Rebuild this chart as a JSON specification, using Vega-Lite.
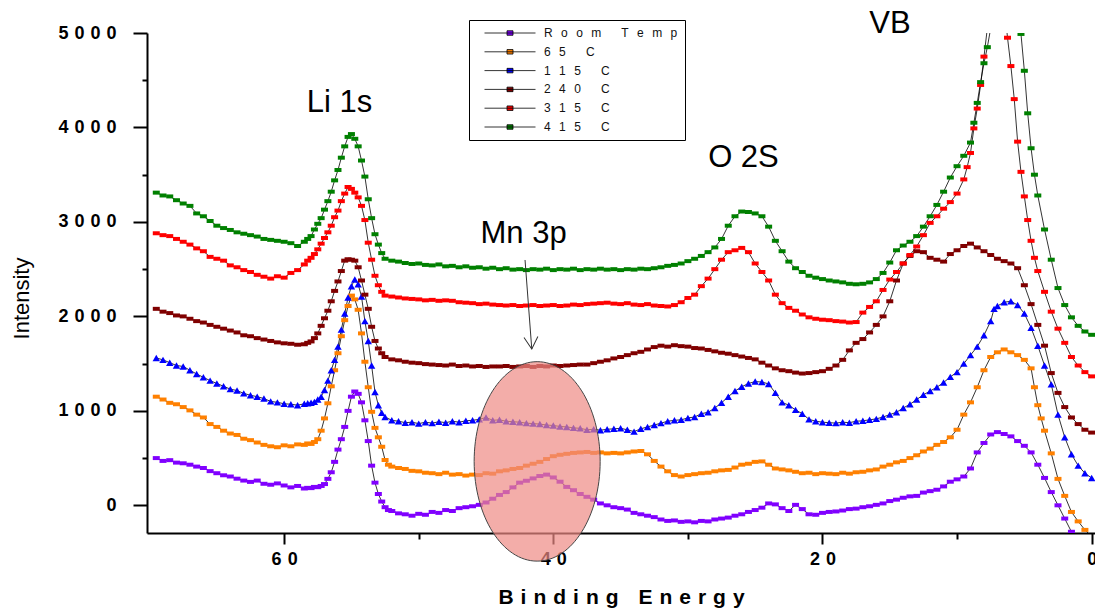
{
"$schema":"https://vega.github.io/schema/vega-lite/v6.json",
"width":948,"height":500,
"autosize":{"type":"none"},
"padding":{"left":147,"top":33,"right":0,"bottom":79},
"background":"white",
"config":{"view":{"stroke":null},"font":"Liberation Sans"},
"datasets":{
"rt":[{"x":69.5,"y":500},{"x":69,"y":470},{"x":68.5,"y":478},{"x":68,"y":452},{"x":67.5,"y":445},{"x":67,"y":430},{"x":66.5,"y":410},{"x":66,"y":395},{"x":65.5,"y":362},{"x":65,"y":340},{"x":64.5,"y":318},{"x":64,"y":305},{"x":63.5,"y":282},{"x":63,"y":262},{"x":62.5,"y":248},{"x":62,"y":262},{"x":61.5,"y":228},{"x":61,"y":218},{"x":60.5,"y":232},{"x":60,"y":210},{"x":59.5,"y":190},{"x":59,"y":205},{"x":58.5,"y":178},{"x":58.25,"y":185},{"x":58,"y":182},{"x":57.75,"y":195},{"x":57.5,"y":192},{"x":57.25,"y":205},{"x":57,"y":225},{"x":56.75,"y":280},{"x":56.5,"y":350},{"x":56.25,"y":460},{"x":56,"y":590},{"x":55.75,"y":700},{"x":55.5,"y":830},{"x":55.25,"y":1000},{"x":55,"y":1150},{"x":54.75,"y":1205},{"x":54.5,"y":1180},{"x":54.25,"y":1090},{"x":54,"y":900},{"x":53.75,"y":680},{"x":53.5,"y":420},{"x":53.25,"y":240},{"x":53,"y":120},{"x":52.75,"y":40},{"x":52.5,"y":-20},{"x":52.25,"y":-50},{"x":52,"y":-60},{"x":51.5,"y":-85},{"x":51,"y":-95},{"x":50.5,"y":-110},{"x":50,"y":-90},{"x":49.5,"y":-100},{"x":49,"y":-70},{"x":48.5,"y":-80},{"x":48,"y":-50},{"x":47.5,"y":-60},{"x":47,"y":-30},{"x":46.5,"y":-20},{"x":46,"y":-10},{"x":45.5,"y":5},{"x":45,"y":30},{"x":44.5,"y":70},{"x":44,"y":110},{"x":43.5,"y":140},{"x":43,"y":190},{"x":42.5,"y":240},{"x":42,"y":260},{"x":41.5,"y":285},{"x":41,"y":310},{"x":40.5,"y":325},{"x":40,"y":295},{"x":39.5,"y":250},{"x":39,"y":195},{"x":38.5,"y":160},{"x":38,"y":120},{"x":37.5,"y":90},{"x":37,"y":60},{"x":36.5,"y":20},{"x":36,"y":0},{"x":35.5,"y":-20},{"x":35,"y":-30},{"x":34.5,"y":-45},{"x":34,"y":-80},{"x":33.5,"y":-95},{"x":33,"y":-110},{"x":32.5,"y":-125},{"x":32,"y":-150},{"x":31.5,"y":-165},{"x":31,"y":-160},{"x":30.5,"y":-175},{"x":30,"y":-170},{"x":29.5,"y":-180},{"x":29,"y":-165},{"x":28.5,"y":-170},{"x":28,"y":-150},{"x":27.5,"y":-140},{"x":27,"y":-130},{"x":26.5,"y":-110},{"x":26,"y":-95},{"x":25.5,"y":-70},{"x":25,"y":-50},{"x":24.5,"y":-25},{"x":24,"y":20},{"x":23.5,"y":10},{"x":23,"y":-30},{"x":22.5,"y":-60},{"x":22,"y":5},{"x":21.5,"y":-40},{"x":21,"y":-95},{"x":20.5,"y":-100},{"x":20,"y":-80},{"x":19.5,"y":-70},{"x":19,"y":-65},{"x":18.5,"y":-55},{"x":18,"y":-40},{"x":17.5,"y":-35},{"x":17,"y":-20},{"x":16.5,"y":-10},{"x":16,"y":5},{"x":15.5,"y":20},{"x":15,"y":45},{"x":14.5,"y":60},{"x":14,"y":80},{"x":13.5,"y":95},{"x":13,"y":100},{"x":12.5,"y":135},{"x":12,"y":150},{"x":11.5,"y":165},{"x":11,"y":200},{"x":10.5,"y":250},{"x":10,"y":275},{"x":9.5,"y":305},{"x":9,"y":390},{"x":8.5,"y":560},{"x":8,"y":660},{"x":7.5,"y":750},{"x":7,"y":775},{"x":6.5,"y":755},{"x":6,"y":730},{"x":5.5,"y":680},{"x":5,"y":630},{"x":4.5,"y":560},{"x":4,"y":430},{"x":3.5,"y":290},{"x":3,"y":140},{"x":2.5,"y":0},{"x":2,"y":-140},{"x":1.5,"y":-280},{"x":1,"y":-420},{"x":0.5,"y":-560},{"x":0,"y":-700}],
"c65":[{"x":69.5,"y":1150},{"x":69,"y":1120},{"x":68.5,"y":1085},{"x":68,"y":1070},{"x":67.5,"y":1040},{"x":67,"y":1005},{"x":66.5,"y":960},{"x":66,"y":930},{"x":65.5,"y":860},{"x":65,"y":830},{"x":64.5,"y":790},{"x":64,"y":760},{"x":63.5,"y":745},{"x":63,"y":705},{"x":62.5,"y":690},{"x":62,"y":665},{"x":61.5,"y":640},{"x":61,"y":625},{"x":60.5,"y":615},{"x":60,"y":635},{"x":59.5,"y":625},{"x":59,"y":645},{"x":58.5,"y":640},{"x":58.25,"y":655},{"x":58,"y":650},{"x":57.75,"y":670},{"x":57.5,"y":700},{"x":57.25,"y":790},{"x":57,"y":920},{"x":56.75,"y":1080},{"x":56.5,"y":1260},{"x":56.25,"y":1430},{"x":56,"y":1610},{"x":55.75,"y":1790},{"x":55.5,"y":1960},{"x":55.25,"y":2110},{"x":55,"y":2220},{"x":54.75,"y":2180},{"x":54.5,"y":2070},{"x":54.25,"y":1820},{"x":54,"y":1520},{"x":53.75,"y":1250},{"x":53.5,"y":990},{"x":53.25,"y":820},{"x":53,"y":720},{"x":52.75,"y":620},{"x":52.5,"y":480},{"x":52.25,"y":430},{"x":52,"y":410},{"x":51.5,"y":395},{"x":51,"y":385},{"x":50.5,"y":365},{"x":50,"y":360},{"x":49.5,"y":345},{"x":49,"y":340},{"x":48.5,"y":330},{"x":48,"y":345},{"x":47.5,"y":325},{"x":47,"y":330},{"x":46.5,"y":315},{"x":46,"y":325},{"x":45.5,"y":320},{"x":45,"y":340},{"x":44.5,"y":335},{"x":44,"y":360},{"x":43.5,"y":370},{"x":43,"y":385},{"x":42.5,"y":395},{"x":42,"y":420},{"x":41.5,"y":440},{"x":41,"y":460},{"x":40.5,"y":490},{"x":40,"y":520},{"x":39.5,"y":535},{"x":39,"y":545},{"x":38.5,"y":555},{"x":38,"y":560},{"x":37.5,"y":565},{"x":37,"y":555},{"x":36.5,"y":560},{"x":36,"y":550},{"x":35.5,"y":555},{"x":35,"y":550},{"x":34.5,"y":560},{"x":34,"y":570},{"x":33.5,"y":575},{"x":33,"y":540},{"x":32.5,"y":470},{"x":32,"y":410},{"x":31.5,"y":360},{"x":31,"y":320},{"x":30.5,"y":305},{"x":30,"y":320},{"x":29.5,"y":330},{"x":29,"y":340},{"x":28.5,"y":345},{"x":28,"y":360},{"x":27.5,"y":370},{"x":27,"y":375},{"x":26.5,"y":400},{"x":26,"y":430},{"x":25.5,"y":440},{"x":25,"y":460},{"x":24.5,"y":465},{"x":24,"y":430},{"x":23.5,"y":390},{"x":23,"y":380},{"x":22.5,"y":370},{"x":22,"y":355},{"x":21.5,"y":340},{"x":21,"y":345},{"x":20.5,"y":330},{"x":20,"y":340},{"x":19.5,"y":335},{"x":19,"y":330},{"x":18.5,"y":345},{"x":18,"y":335},{"x":17.5,"y":350},{"x":17,"y":355},{"x":16.5,"y":370},{"x":16,"y":380},{"x":15.5,"y":410},{"x":15,"y":430},{"x":14.5,"y":455},{"x":14,"y":470},{"x":13.5,"y":500},{"x":13,"y":530},{"x":12.5,"y":570},{"x":12,"y":600},{"x":11.5,"y":640},{"x":11,"y":670},{"x":10.5,"y":720},{"x":10,"y":800},{"x":9.5,"y":960},{"x":9,"y":1090},{"x":8.5,"y":1250},{"x":8,"y":1430},{"x":7.5,"y":1570},{"x":7,"y":1620},{"x":6.5,"y":1650},{"x":6,"y":1620},{"x":5.5,"y":1590},{"x":5,"y":1540},{"x":4.5,"y":1450},{"x":4.25,"y":1250},{"x":4,"y":1060},{"x":3.75,"y":920},{"x":3.5,"y":790},{"x":3,"y":550},{"x":2.5,"y":280},{"x":2,"y":100},{"x":1.5,"y":-70},{"x":1,"y":-170},{"x":0.5,"y":-260},{"x":0,"y":-330}],
"c115":[{"x":69.5,"y":1560},{"x":69,"y":1540},{"x":68.5,"y":1510},{"x":68,"y":1480},{"x":67.5,"y":1470},{"x":67,"y":1430},{"x":66.5,"y":1390},{"x":66,"y":1355},{"x":65.5,"y":1320},{"x":65,"y":1290},{"x":64.5,"y":1260},{"x":64,"y":1230},{"x":63.5,"y":1215},{"x":63,"y":1185},{"x":62.5,"y":1165},{"x":62,"y":1150},{"x":61.5,"y":1130},{"x":61,"y":1100},{"x":60.5,"y":1090},{"x":60,"y":1075},{"x":59.5,"y":1070},{"x":59,"y":1060},{"x":58.5,"y":1075},{"x":58.25,"y":1080},{"x":58,"y":1085},{"x":57.75,"y":1095},{"x":57.5,"y":1120},{"x":57.25,"y":1150},{"x":57,"y":1220},{"x":56.75,"y":1320},{"x":56.5,"y":1430},{"x":56.25,"y":1540},{"x":56,"y":1680},{"x":55.75,"y":1860},{"x":55.5,"y":2030},{"x":55.25,"y":2200},{"x":55,"y":2320},{"x":54.75,"y":2390},{"x":54.5,"y":2340},{"x":54.25,"y":2210},{"x":54,"y":1950},{"x":53.75,"y":1740},{"x":53.5,"y":1480},{"x":53.25,"y":1200},{"x":53,"y":1060},{"x":52.75,"y":980},{"x":52.5,"y":935},{"x":52,"y":900},{"x":51.5,"y":890},{"x":51,"y":875},{"x":50.5,"y":880},{"x":50,"y":865},{"x":49.5,"y":880},{"x":49,"y":870},{"x":48.5,"y":885},{"x":48,"y":875},{"x":47.5,"y":890},{"x":47,"y":880},{"x":46.5,"y":895},{"x":46,"y":900},{"x":45.5,"y":910},{"x":45,"y":930},{"x":44.5,"y":900},{"x":44,"y":905},{"x":43.5,"y":890},{"x":43,"y":885},{"x":42.5,"y":880},{"x":42,"y":870},{"x":41.5,"y":865},{"x":41,"y":860},{"x":40.5,"y":850},{"x":40,"y":845},{"x":39.5,"y":835},{"x":39,"y":830},{"x":38.5,"y":820},{"x":38,"y":815},{"x":37.5,"y":800},{"x":37,"y":805},{"x":36.5,"y":795},{"x":36,"y":805},{"x":35.5,"y":810},{"x":35,"y":815},{"x":34.5,"y":800},{"x":34,"y":780},{"x":33.5,"y":810},{"x":33,"y":830},{"x":32.5,"y":850},{"x":32,"y":870},{"x":31.5,"y":890},{"x":31,"y":900},{"x":30.5,"y":905},{"x":30,"y":925},{"x":29.5,"y":935},{"x":29,"y":970},{"x":28.5,"y":985},{"x":28,"y":1030},{"x":27.5,"y":1085},{"x":27,"y":1150},{"x":26.5,"y":1210},{"x":26,"y":1255},{"x":25.5,"y":1290},{"x":25,"y":1310},{"x":24.5,"y":1305},{"x":24,"y":1285},{"x":23.5,"y":1190},{"x":23,"y":1090},{"x":22.5,"y":1060},{"x":22,"y":1010},{"x":21.5,"y":970},{"x":21,"y":910},{"x":20.5,"y":890},{"x":20,"y":880},{"x":19.5,"y":875},{"x":19,"y":870},{"x":18.5,"y":880},{"x":18,"y":875},{"x":17.5,"y":890},{"x":17,"y":895},{"x":16.5,"y":905},{"x":16,"y":915},{"x":15.5,"y":935},{"x":15,"y":960},{"x":14.5,"y":985},{"x":14,"y":1030},{"x":13.5,"y":1070},{"x":13,"y":1120},{"x":12.5,"y":1170},{"x":12,"y":1210},{"x":11.5,"y":1250},{"x":11,"y":1300},{"x":10.5,"y":1360},{"x":10,"y":1410},{"x":9.5,"y":1500},{"x":9,"y":1590},{"x":8.5,"y":1680},{"x":8,"y":1800},{"x":7.5,"y":1950},{"x":7.25,"y":2080},{"x":7,"y":2110},{"x":6.5,"y":2150},{"x":6,"y":2160},{"x":5.5,"y":2120},{"x":5,"y":2030},{"x":4.5,"y":1880},{"x":4,"y":1690},{"x":3.5,"y":1480},{"x":3,"y":1280},{"x":2.5,"y":960},{"x":2,"y":720},{"x":1.5,"y":540},{"x":1,"y":420},{"x":0.5,"y":340},{"x":0,"y":290}],
"c240":[{"x":69.5,"y":2080},{"x":69,"y":2050},{"x":68.5,"y":2035},{"x":68,"y":2010},{"x":67.5,"y":2000},{"x":67,"y":1975},{"x":66.5,"y":1950},{"x":66,"y":1935},{"x":65.5,"y":1910},{"x":65,"y":1890},{"x":64.5,"y":1870},{"x":64,"y":1850},{"x":63.5,"y":1830},{"x":63,"y":1800},{"x":62.5,"y":1790},{"x":62,"y":1770},{"x":61.5,"y":1755},{"x":61,"y":1740},{"x":60.5,"y":1725},{"x":60,"y":1715},{"x":59.5,"y":1710},{"x":59,"y":1700},{"x":58.5,"y":1705},{"x":58.25,"y":1720},{"x":58,"y":1735},{"x":57.75,"y":1770},{"x":57.5,"y":1820},{"x":57.25,"y":1900},{"x":57,"y":1980},{"x":56.75,"y":2060},{"x":56.5,"y":2160},{"x":56.25,"y":2270},{"x":56,"y":2370},{"x":55.75,"y":2480},{"x":55.5,"y":2590},{"x":55.25,"y":2605},{"x":55,"y":2600},{"x":54.75,"y":2590},{"x":54.5,"y":2520},{"x":54.25,"y":2380},{"x":54,"y":2230},{"x":53.75,"y":2080},{"x":53.5,"y":1890},{"x":53.25,"y":1740},{"x":53,"y":1660},{"x":52.75,"y":1610},{"x":52.5,"y":1570},{"x":52,"y":1545},{"x":51.5,"y":1535},{"x":51,"y":1520},{"x":50.5,"y":1510},{"x":50,"y":1505},{"x":49.5,"y":1495},{"x":49,"y":1490},{"x":48.5,"y":1485},{"x":48,"y":1480},{"x":47.5,"y":1490},{"x":47,"y":1475},{"x":46.5,"y":1480},{"x":46,"y":1470},{"x":45.5,"y":1475},{"x":45,"y":1465},{"x":44.5,"y":1470},{"x":44,"y":1470},{"x":43.5,"y":1475},{"x":43,"y":1465},{"x":42.5,"y":1470},{"x":42,"y":1475},{"x":41.5,"y":1465},{"x":41,"y":1475},{"x":40.5,"y":1470},{"x":40,"y":1480},{"x":39.5,"y":1475},{"x":39,"y":1480},{"x":38.5,"y":1485},{"x":38,"y":1490},{"x":37.5,"y":1490},{"x":37,"y":1505},{"x":36.5,"y":1520},{"x":36,"y":1535},{"x":35.5,"y":1555},{"x":35,"y":1570},{"x":34.5,"y":1590},{"x":34,"y":1610},{"x":33.5,"y":1625},{"x":33,"y":1650},{"x":32.5,"y":1675},{"x":32,"y":1690},{"x":31.5,"y":1680},{"x":31,"y":1695},{"x":30.5,"y":1685},{"x":30,"y":1680},{"x":29.5,"y":1665},{"x":29,"y":1660},{"x":28.5,"y":1645},{"x":28,"y":1630},{"x":27.5,"y":1615},{"x":27,"y":1605},{"x":26.5,"y":1590},{"x":26,"y":1575},{"x":25.5,"y":1560},{"x":25,"y":1545},{"x":24.5,"y":1510},{"x":24,"y":1480},{"x":23.5,"y":1450},{"x":23,"y":1430},{"x":22.5,"y":1420},{"x":22,"y":1405},{"x":21.5,"y":1395},{"x":21,"y":1400},{"x":20.5,"y":1410},{"x":20,"y":1420},{"x":19.5,"y":1445},{"x":19,"y":1480},{"x":18.5,"y":1540},{"x":18,"y":1640},{"x":17.5,"y":1720},{"x":17,"y":1760},{"x":16.5,"y":1830},{"x":16,"y":1910},{"x":15.5,"y":2000},{"x":15,"y":2160},{"x":14.5,"y":2380},{"x":14,"y":2560},{"x":13.5,"y":2640},{"x":13,"y":2690},{"x":12.5,"y":2680},{"x":12,"y":2620},{"x":11.5,"y":2600},{"x":11,"y":2580},{"x":10.5,"y":2660},{"x":10,"y":2700},{"x":9.5,"y":2745},{"x":9,"y":2770},{"x":8.5,"y":2730},{"x":8,"y":2690},{"x":7.5,"y":2650},{"x":7,"y":2610},{"x":6.5,"y":2585},{"x":6,"y":2560},{"x":5.5,"y":2510},{"x":5,"y":2330},{"x":4.5,"y":2130},{"x":4,"y":1910},{"x":3.5,"y":1690},{"x":3,"y":1400},{"x":2.5,"y":1190},{"x":2,"y":1040},{"x":1.5,"y":930},{"x":1,"y":860},{"x":0.5,"y":800},{"x":0,"y":770}],
"c315":[{"x":69.5,"y":2880},{"x":69,"y":2860},{"x":68.5,"y":2850},{"x":68,"y":2820},{"x":67.5,"y":2790},{"x":67,"y":2760},{"x":66.5,"y":2720},{"x":66,"y":2690},{"x":65.5,"y":2630},{"x":65,"y":2610},{"x":64.5,"y":2590},{"x":64,"y":2540},{"x":63.5,"y":2520},{"x":63,"y":2490},{"x":62.5,"y":2470},{"x":62,"y":2440},{"x":61.5,"y":2420},{"x":61,"y":2400},{"x":60.5,"y":2425},{"x":60,"y":2410},{"x":59.5,"y":2460},{"x":59,"y":2490},{"x":58.5,"y":2550},{"x":58.25,"y":2590},{"x":58,"y":2620},{"x":57.75,"y":2660},{"x":57.5,"y":2710},{"x":57.25,"y":2770},{"x":57,"y":2830},{"x":56.75,"y":2890},{"x":56.5,"y":2960},{"x":56.25,"y":3050},{"x":56,"y":3120},{"x":55.75,"y":3220},{"x":55.5,"y":3300},{"x":55.25,"y":3370},{"x":55,"y":3350},{"x":54.75,"y":3310},{"x":54.5,"y":3260},{"x":54.25,"y":3170},{"x":54,"y":3020},{"x":53.75,"y":2780},{"x":53.5,"y":2600},{"x":53.25,"y":2430},{"x":53,"y":2330},{"x":52.75,"y":2260},{"x":52.5,"y":2220},{"x":52,"y":2210},{"x":51.5,"y":2200},{"x":51,"y":2190},{"x":50.5,"y":2185},{"x":50,"y":2180},{"x":49.5,"y":2170},{"x":49,"y":2175},{"x":48.5,"y":2165},{"x":48,"y":2170},{"x":47.5,"y":2165},{"x":47,"y":2150},{"x":46.5,"y":2145},{"x":46,"y":2140},{"x":45.5,"y":2130},{"x":45,"y":2135},{"x":44.5,"y":2125},{"x":44,"y":2120},{"x":43.5,"y":2115},{"x":43,"y":2120},{"x":42.5,"y":2110},{"x":42,"y":2115},{"x":41.5,"y":2120},{"x":41,"y":2110},{"x":40.5,"y":2115},{"x":40,"y":2120},{"x":39.5,"y":2110},{"x":39,"y":2115},{"x":38.5,"y":2125},{"x":38,"y":2120},{"x":37.5,"y":2130},{"x":37,"y":2135},{"x":36.5,"y":2140},{"x":36,"y":2145},{"x":35.5,"y":2135},{"x":35,"y":2130},{"x":34.5,"y":2140},{"x":34,"y":2125},{"x":33.5,"y":2120},{"x":33,"y":2130},{"x":32.5,"y":2115},{"x":32,"y":2110},{"x":31.5,"y":2105},{"x":31,"y":2120},{"x":30.5,"y":2150},{"x":30,"y":2195},{"x":29.5,"y":2230},{"x":29,"y":2320},{"x":28.5,"y":2400},{"x":28,"y":2500},{"x":27.5,"y":2600},{"x":27,"y":2680},{"x":26.5,"y":2700},{"x":26,"y":2725},{"x":25.5,"y":2680},{"x":25,"y":2560},{"x":24.5,"y":2470},{"x":24,"y":2380},{"x":23.5,"y":2230},{"x":23,"y":2140},{"x":22.5,"y":2090},{"x":22,"y":2060},{"x":21.5,"y":2020},{"x":21,"y":1990},{"x":20.5,"y":1975},{"x":20,"y":1965},{"x":19.5,"y":1960},{"x":19,"y":1950},{"x":18.5,"y":1945},{"x":18,"y":1935},{"x":17.5,"y":1940},{"x":17,"y":2040},{"x":16.5,"y":2100},{"x":16,"y":2160},{"x":15.5,"y":2280},{"x":15,"y":2390},{"x":14.5,"y":2470},{"x":14,"y":2560},{"x":13.5,"y":2650},{"x":13,"y":2740},{"x":12.5,"y":2860},{"x":12,"y":2990},{"x":11.5,"y":3060},{"x":11,"y":3140},{"x":10.5,"y":3210},{"x":10,"y":3300},{"x":9.5,"y":3450},{"x":9.25,"y":3580},{"x":9,"y":3730},{"x":8.75,"y":3990},{"x":8.5,"y":4200},{"x":8.25,"y":4450},{"x":8,"y":4750},{"x":7.75,"y":5050},{"x":7.5,"y":5500},{"x":7,"y":6200},{"x":6.5,"y":5300},{"x":6.25,"y":4950},{"x":6,"y":4650},{"x":5.75,"y":4300},{"x":5.5,"y":3850},{"x":5.25,"y":3530},{"x":5,"y":3270},{"x":4.75,"y":3020},{"x":4.5,"y":2800},{"x":4.25,"y":2620},{"x":4,"y":2480},{"x":3.5,"y":2260},{"x":3,"y":2050},{"x":2.5,"y":1870},{"x":2,"y":1720},{"x":1.5,"y":1570},{"x":1,"y":1480},{"x":0.5,"y":1410},{"x":0,"y":1365}],
"c415":[{"x":69.5,"y":3310},{"x":69,"y":3280},{"x":68.5,"y":3270},{"x":68,"y":3230},{"x":67.5,"y":3195},{"x":67,"y":3170},{"x":66.5,"y":3090},{"x":66,"y":3060},{"x":65.5,"y":3010},{"x":65,"y":2960},{"x":64.5,"y":2935},{"x":64,"y":2915},{"x":63.5,"y":2890},{"x":63,"y":2875},{"x":62.5,"y":2860},{"x":62,"y":2845},{"x":61.5,"y":2820},{"x":61,"y":2810},{"x":60.5,"y":2800},{"x":60,"y":2790},{"x":59.5,"y":2775},{"x":59,"y":2745},{"x":58.5,"y":2790},{"x":58.25,"y":2820},{"x":58,"y":2850},{"x":57.75,"y":2920},{"x":57.5,"y":2980},{"x":57.25,"y":3040},{"x":57,"y":3130},{"x":56.75,"y":3220},{"x":56.5,"y":3320},{"x":56.25,"y":3440},{"x":56,"y":3550},{"x":55.75,"y":3680},{"x":55.5,"y":3800},{"x":55.25,"y":3900},{"x":55,"y":3930},{"x":54.75,"y":3880},{"x":54.5,"y":3800},{"x":54.25,"y":3650},{"x":54,"y":3480},{"x":53.75,"y":3240},{"x":53.5,"y":3040},{"x":53.25,"y":2870},{"x":53,"y":2760},{"x":52.75,"y":2670},{"x":52.5,"y":2610},{"x":52,"y":2590},{"x":51.5,"y":2580},{"x":51,"y":2565},{"x":50.5,"y":2555},{"x":50,"y":2560},{"x":49.5,"y":2545},{"x":49,"y":2540},{"x":48.5,"y":2550},{"x":48,"y":2530},{"x":47.5,"y":2535},{"x":47,"y":2520},{"x":46.5,"y":2530},{"x":46,"y":2515},{"x":45.5,"y":2520},{"x":45,"y":2505},{"x":44.5,"y":2515},{"x":44,"y":2500},{"x":43.5,"y":2510},{"x":43,"y":2495},{"x":42.5,"y":2500},{"x":42,"y":2490},{"x":41.5,"y":2500},{"x":41,"y":2495},{"x":40.5,"y":2505},{"x":40,"y":2490},{"x":39.5,"y":2500},{"x":39,"y":2495},{"x":38.5,"y":2505},{"x":38,"y":2490},{"x":37.5,"y":2500},{"x":37,"y":2495},{"x":36.5,"y":2505},{"x":36,"y":2495},{"x":35.5,"y":2500},{"x":35,"y":2490},{"x":34.5,"y":2500},{"x":34,"y":2495},{"x":33.5,"y":2505},{"x":33,"y":2500},{"x":32.5,"y":2510},{"x":32,"y":2520},{"x":31.5,"y":2535},{"x":31,"y":2545},{"x":30.5,"y":2560},{"x":30,"y":2585},{"x":29.5,"y":2610},{"x":29,"y":2640},{"x":28.5,"y":2680},{"x":28,"y":2730},{"x":27.5,"y":2820},{"x":27,"y":2960},{"x":26.5,"y":3060},{"x":26,"y":3110},{"x":25.5,"y":3105},{"x":25,"y":3090},{"x":24.5,"y":3060},{"x":24,"y":2950},{"x":23.5,"y":2800},{"x":23,"y":2690},{"x":22.5,"y":2580},{"x":22,"y":2510},{"x":21.5,"y":2470},{"x":21,"y":2430},{"x":20.5,"y":2410},{"x":20,"y":2395},{"x":19.5,"y":2380},{"x":19,"y":2370},{"x":18.5,"y":2360},{"x":18,"y":2345},{"x":17.5,"y":2340},{"x":17,"y":2345},{"x":16.5,"y":2360},{"x":16,"y":2395},{"x":15.5,"y":2460},{"x":15,"y":2570},{"x":14.5,"y":2700},{"x":14,"y":2750},{"x":13.5,"y":2790},{"x":13,"y":2850},{"x":12.5,"y":2950},{"x":12,"y":3060},{"x":11.5,"y":3180},{"x":11,"y":3320},{"x":10.5,"y":3470},{"x":10,"y":3590},{"x":9.5,"y":3700},{"x":9,"y":3840},{"x":8.75,"y":4050},{"x":8.5,"y":4260},{"x":8.25,"y":4480},{"x":8,"y":4680},{"x":7.75,"y":4850},{"x":7.5,"y":5050},{"x":7,"y":5500},{"x":6.5,"y":6000},{"x":6,"y":5700},{"x":5.5,"y":5250},{"x":5.25,"y":4990},{"x":5,"y":4600},{"x":4.75,"y":4150},{"x":4.5,"y":3780},{"x":4.25,"y":3500},{"x":4,"y":3280},{"x":3.5,"y":2920},{"x":3,"y":2600},{"x":2.5,"y":2300},{"x":2,"y":2120},{"x":1.5,"y":1990},{"x":1,"y":1900},{"x":0.5,"y":1840},{"x":0,"y":1805}],
"notes":[{"x":55.89,"y":4167,"t":"Li 1s"},{"x":42.21,"y":2774,"t":"Mn 3p"},{"x":25.87,"y":3582,"t":"O 2S"},{"x":14.98,"y":5000,"t":"VB"}],
"arrow":[{"x":42.1,"y":2597,"x2":41.6,"y2":1655}],
"head":[{"x":41.6,"y":1655}],
"oval":[{"x":41.2,"y":465}]
},
"encoding":{
"x":{"field":"x","type":"quantitative","scale":{"domain":[-0.25,70.19],"reverse":true,"nice":false,"zero":false},
"axis":{"title":"B\u2004i\u2004n\u2004d\u2004i\u2004n\u2004g\u2004 \u2004E\u2004n\u2004e\u2004r\u2004g\u2004y","values":[0,10,20,30,40,50,60],
"labelExpr":"datum.value % 20 === 0 ? join(split(datum.label, ''), '\u2004') : ''",
"labelFont":"Liberation Sans","labelFontWeight":"bold","labelFontSize":18,"labelColor":"black","labelPadding":6,"labelFlush":false,"labelOverlap":false,"labelBaseline":"top",
"tickSize":{"condition":{"test":"datum.value % 20 === 0","value":11},"value":6},"tickWidth":2,"tickColor":"black","domainWidth":2,"domainColor":"black","grid":false,
"titleFont":"Liberation Sans","titleFontWeight":"bold","titleFontSize":21,"titleColor":"black","titleBaseline":"alphabetic","titleY":70}},
"y":{"field":"y","type":"quantitative","scale":{"domain":[-293,5000],"nice":false,"zero":false},
"axis":{"title":"Intensity","values":[0,500,1000,1500,2000,2500,3000,3500,4000,4500,5000],"format":"d",
"labelExpr":"datum.value % 1000 === 0 ? join(split(datum.label, ''), '\u2004') : ''",
"labelFont":"Liberation Sans","labelFontWeight":"bold","labelFontSize":18,"labelColor":"black","labelPadding":17,"labelFlush":false,"labelOverlap":false,"labelBaseline":"middle",
"tickSize":{"condition":{"test":"datum.value % 1000 === 0","value":14},"value":5},"tickWidth":2,"tickColor":"black","domainWidth":2,"domainColor":"black","grid":false,
"titleFont":"Liberation Sans","titleFontWeight":"normal","titleFontSize":22,"titleColor":"black","titleX":-126,"titleY":265,"titleAngle":270,"titleAlign":"center","titleBaseline":"middle"}}
},
"layer":[
{"data":{"name":"rt"},"mark":{"type":"line","color":"black","strokeWidth":0.8,"clip":true},"encoding":{}},
{"data":{"name":"c65"},"mark":{"type":"line","color":"black","strokeWidth":0.8,"clip":true},"encoding":{}},
{"data":{"name":"c115"},"mark":{"type":"line","color":"black","strokeWidth":0.8,"clip":true},"encoding":{}},
{"data":{"name":"c240"},"mark":{"type":"line","color":"black","strokeWidth":0.8,"clip":true},"encoding":{}},
{"data":{"name":"c315"},"mark":{"type":"line","color":"black","strokeWidth":0.8,"clip":true},"encoding":{}},
{"data":{"name":"c415"},"mark":{"type":"line","color":"black","strokeWidth":0.8,"clip":true},"encoding":{}},
{"data":{"name":"rt"},"mark":{"type":"point","filled":true,"shape":"M-1,-0.57H1V0.57H-1Z","size":49,"opacity":1,"clip":true},
"encoding":{"color":{"datum":"Room Temp","type":"nominal",
"scale":{"domain":["Room Temp","65 C","115 C","240 C","315 C","415 C"],"range":["#8000ff","#ff8000","#0000ff","#800000","#ff0000","#008000"]},
"legend":{"title":null,"orient":"none","legendX":322,"legendY":-13,"padding":7,"strokeColor":"black","fillColor":"white",
"symbolType":"M-5.1,0H5.1M-0.6,-0.45H0.6V0.45H-0.6Z","symbolSize":100,"symbolOffset":28,"symbolStrokeColor":"black","symbolStrokeWidth":0.8,
"labelOffset":28,"labelFont":"Liberation Sans","labelFontSize":12,"labelColor":"#111","rowPadding":6.8,
"labelExpr":"join(split(datum.label, ''), '\u2002\u2009') + '\u2003\u2003'",
"encode":{"symbols":{"update":{"shape":{"signal":"datum.value === '115 C' ? 'M-5.1,0H5.1M-0.75,0.6L0,-0.75L0.75,0.6Z' : 'M-5.1,0H5.1M-0.6,-0.45H0.6V0.45H-0.6Z'"},"stroke":{"value":"black"},"strokeWidth":{"value":0.8},"size":{"value":100},"opacity":{"value":1}}},"legend":{"update":{"strokeWidth":{"value":1.5}}}}}}}},
{"data":{"name":"c65"},"mark":{"type":"point","filled":true,"shape":"M-1,-0.57H1V0.57H-1Z","size":49,"opacity":1,"clip":true},"encoding":{"color":{"datum":"65 C","type":"nominal"}}},
{"data":{"name":"c115"},"mark":{"type":"point","filled":true,"shape":"triangle-up","size":55,"opacity":1,"clip":true},"encoding":{"color":{"datum":"115 C","type":"nominal"}}},
{"data":{"name":"c240"},"mark":{"type":"point","filled":true,"shape":"M-1,-0.57H1V0.57H-1Z","size":49,"opacity":1,"clip":true},"encoding":{"color":{"datum":"240 C","type":"nominal"}}},
{"data":{"name":"c315"},"mark":{"type":"point","filled":true,"shape":"M-1,-0.57H1V0.57H-1Z","size":49,"opacity":1,"clip":true},"encoding":{"color":{"datum":"315 C","type":"nominal"}}},
{"data":{"name":"c415"},"mark":{"type":"point","filled":true,"shape":"M-1,-0.57H1V0.57H-1Z","size":49,"opacity":1,"clip":true},"encoding":{"color":{"datum":"415 C","type":"nominal"}}},
{"data":{"name":"oval"},"mark":{"type":"point","shape":"M-1,0A1,1.583,0,1,0,1,0A1,1.583,0,1,0,-1,0Z","size":15876,"filled":true,"color":"#ee8a85","fillOpacity":0.7,"stroke":"#444","strokeWidth":1,"strokeOpacity":1,"opacity":1},"encoding":{}},
{"data":{"name":"arrow"},"mark":{"type":"rule","color":"#333","strokeWidth":1},"encoding":{"x2":{"field":"x2"},"y2":{"field":"y2"}}},
{"data":{"name":"head"},"mark":{"type":"point","shape":"M-0.58,-1L0,0L0.58,-1","size":576,"filled":false,"color":"#333","strokeWidth":1,"angle":356,"opacity":1},"encoding":{}},
{"data":{"name":"notes"},"mark":{"type":"text","font":"Liberation Sans","fontSize":31,"align":"center","baseline":"alphabetic","color":"black"},"encoding":{"text":{"field":"t"}}}
]
}
